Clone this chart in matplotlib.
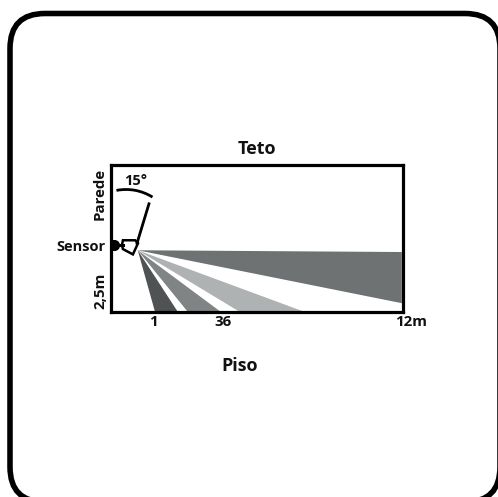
import matplotlib
matplotlib.use("Agg")
import matplotlib.pyplot as plt
from matplotlib.patches import FancyBboxPatch, Polygon, Arc

plt.rcParams['font.family'] = ['Open Sans', 'DejaVu Sans']
plt.rcParams['font.weight'] = 'bold'

W, H = 498, 497

# room is 12 m long and 2.5 m high
room_len = 12
room_h = 2.5
sensor_x = 1.1
sensor_y = 1.05

# where each beam ends, along the floor or on the far wall
beam_a = [(1.81, 0), (2.75, 0)]
beam_b = [(3.16, 0), (4.52, 0)]
beam_c = [(5.3, 0), (7.97, 0)]
beam_d = [(11.95, 0.15), (11.95, 1.02)]
beam_colors = ['#4f5353', '#808484', '#aeb2b2', '#6e7272']


def pixel_axes(zorder):
    a = fig.add_axes([0, 0, 1, 1], zorder=zorder)
    a.set_xlim(0, W)
    a.set_ylim(H, 0)
    a.axis('off')
    return a


fig = plt.figure(figsize=(W / 100, H / 100), dpi=100)

# outer frame, filled so the curved corners survive clipping at the image edge
frame = pixel_axes(0)
frame.add_patch(FancyBboxPatch((10, 13.5), 490, 488.5, boxstyle="round,pad=0,rounding_size=35",
                               fc='white', ec='black', lw=4))

ax = fig.add_axes([111 / W, 1 - 312 / H, 292 / W, 147 / H], zorder=1)
ax.set_xlim(0, room_len)
ax.set_ylim(0, room_h)
ax.set_xticks([])
ax.set_yticks([])
for s in ax.spines.values():
    s.set_linewidth(2.3)
    s.set_zorder(5)

for beam, c in zip([beam_a, beam_b, beam_c, beam_d], beam_colors):
    ax.add_patch(Polygon([(sensor_x, sensor_y)] + beam, fc=c, ec='none'))

# sensor body
body = [(0.49, 1.22), (0.99, 1.22), (1.11, 1.17), (0.90, 0.98), (0.49, 1.07), (0.45, 1.14)]
ax.add_patch(Polygon(body, fc='white', ec='black', lw=1.8, zorder=4))
ax.plot([0.1, 0.49], [1.14, 1.14], color='black', lw=2.2, zorder=4)
ax.plot([0.12], [1.14], 'o', color='black', ms=7, zorder=4)
ax.plot([1.07, 1.56], [1.17, 1.84], color='black', lw=2, zorder=4)

# labels and the angle arc
top = pixel_axes(10)
top.add_patch(Arc((126, 239.5), 100, 100, theta1=259, theta2=302, color='black', lw=2))

top.text(257, 149, 'Teto', ha='center', va='center', fontsize=13, color='#111111')
top.text(240, 366, 'Piso', ha='center', va='center', fontsize=13, color='#111111')
top.text(136, 181, '15°', ha='center', va='center', fontsize=10.5, color='#111111')
top.text(81, 247, 'Sensor', ha='center', va='center', fontsize=10.5, color='#111111')
top.text(100, 194, 'Parede', ha='center', va='center', rotation=90, fontsize=10.8, color='#111111')
top.text(100, 291, '2,5m', ha='center', va='center', rotation=90, fontsize=10.8, color='#111111')
top.text(153, 322, '1', ha='center', va='center', fontsize=10.8, color='#111111')
top.text(223, 322, '36', ha='center', va='center', fontsize=10.8, color='#111111')
top.text(411, 322, '12m', ha='center', va='center', fontsize=10.8, color='#111111')

fig.savefig('out.png', dpi=100)
